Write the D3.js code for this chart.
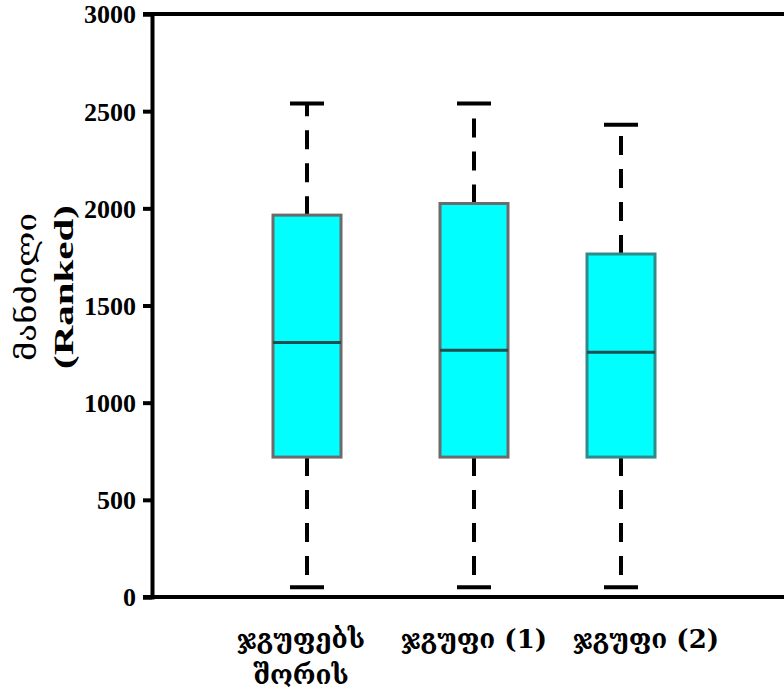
<!DOCTYPE html>
<html>
<head>
<meta charset="utf-8">
<script src="https://cdn.jsdelivr.net/npm/d3@7"></script>
<style>
  body { margin: 0; background: #fff; }
  svg { display: block; }
  .tick-label { font-family: "Liberation Serif", "Times New Roman", serif; font-weight: bold; font-size: 26px; }
  .geo { font-family: "DejaVu Serif", "DejaVu Sans", serif; }
</style>
</head>
<body>
<svg id="svg" width="784" height="695"></svg>
<script>
// box plot values
const categories = [["ჯგუფებს", "შორის"], ["ჯგუფი (1)"], ["ჯგუფი (2)"]]
const whiskerHigh = [2540, 2540, 2430]
const q3 = [1965, 2025, 1765]
const median = [1310, 1270, 1260]
const q1 = [720, 720, 720]
const whiskerLow = [50, 50, 50]
const yTicks = [0, 500, 1000, 1500, 2000, 2500, 3000]

const boxStroke = ["#6b6b6b", "#6b6b6b", "#2f8b8b"]
const labelShift = [-6, 0, 25]

const svg = d3.select("#svg")
const keys = categories.map((_, i) => i)

const y = d3.scaleLinear([0, 3000], [597, 14])
const x = d3.scaleOrdinal(keys, [307, 474, 621])
const boxW = 68
const capW = 34

// frame: top and bottom lines run to the right edge
svg.append("line").attr("x1", 143).attr("x2", 784).attr("y1", y(3000)).attr("y2", y(3000))
  .attr("stroke", "#000").attr("stroke-width", 4)
svg.append("line").attr("x1", 143).attr("x2", 784).attr("y1", y(0)).attr("y2", y(0))
  .attr("stroke", "#000").attr("stroke-width", 4)

const yAxis = svg.append("g").attr("transform", "translate(152,0)")
  .call(d3.axisLeft(y).tickValues(yTicks).tickSize(9).tickPadding(7).tickFormat(d3.format("d")))
yAxis.select(".domain").attr("stroke", "#000").attr("stroke-width", 4)
yAxis.selectAll(".tick line").attr("stroke", "#000").attr("stroke-width", 4)
yAxis.selectAll(".tick text").attr("class", "tick-label").attr("fill", "#000").attr("dy", "0.34em")

const g = svg.selectAll(".box").data(keys).join("g").attr("class", "box")

// whiskers
g.append("line").attr("x1", i => x(i)).attr("x2", i => x(i))
  .attr("y1", i => y(q3[i])).attr("y2", i => y(whiskerHigh[i]))
  .attr("stroke", "#000").attr("stroke-width", 4).attr("stroke-dasharray", "19,14")
g.append("line").attr("x1", i => x(i)).attr("x2", i => x(i))
  .attr("y1", i => y(q1[i])).attr("y2", i => y(whiskerLow[i]))
  .attr("stroke", "#000").attr("stroke-width", 4).attr("stroke-dasharray", "19,14")
g.append("line").attr("x1", i => x(i) - capW / 2).attr("x2", i => x(i) + capW / 2)
  .attr("y1", i => y(whiskerHigh[i])).attr("y2", i => y(whiskerHigh[i]))
  .attr("stroke", "#000").attr("stroke-width", 4)
g.append("line").attr("x1", i => x(i) - capW / 2).attr("x2", i => x(i) + capW / 2)
  .attr("y1", i => y(whiskerLow[i])).attr("y2", i => y(whiskerLow[i]))
  .attr("stroke", "#000").attr("stroke-width", 4)

// boxes
g.append("rect").attr("x", i => x(i) - boxW / 2).attr("width", boxW)
  .attr("y", i => y(q3[i])).attr("height", i => y(q1[i]) - y(q3[i]))
  .attr("fill", "#00ffff").attr("stroke", i => boxStroke[i]).attr("stroke-width", 3)
g.append("line").attr("x1", i => x(i) - boxW / 2).attr("x2", i => x(i) + boxW / 2)
  .attr("y1", i => y(median[i])).attr("y2", i => y(median[i]))
  .attr("stroke", "#1d4f4f").attr("stroke-width", 3)

// category labels
svg.selectAll(".xlab").data(keys).join("text").attr("class", "xlab geo")
  .attr("text-anchor", "middle").attr("font-size", 26).attr("font-weight", "bold")
  .attr("x", i => x(i) + labelShift[i]).attr("y", 648)
  .selectAll("tspan").data(i => categories[i].map(t => [i, t])).join("tspan")
  .attr("x", d => x(d[0]) + labelShift[d[0]]).attr("dy", (d, j) => j ? 36 : 0).text(d => d[1])

// y axis title
const title = svg.append("g").attr("transform", "translate(0,287) rotate(-90)")
title.append("text").attr("class", "geo").attr("text-anchor", "middle").attr("y", 36)
  .attr("font-size", 28).attr("textLength", 148).attr("lengthAdjust", "spacingAndGlyphs").text("მანძილი")
title.append("text").attr("text-anchor", "middle").attr("y", 73)
  .attr("font-family", "Liberation Serif, serif").attr("font-weight", "bold").attr("font-size", 28)
  .attr("textLength", 164).attr("lengthAdjust", "spacingAndGlyphs").text("(Ranked)")
</script>
</body>
</html>
